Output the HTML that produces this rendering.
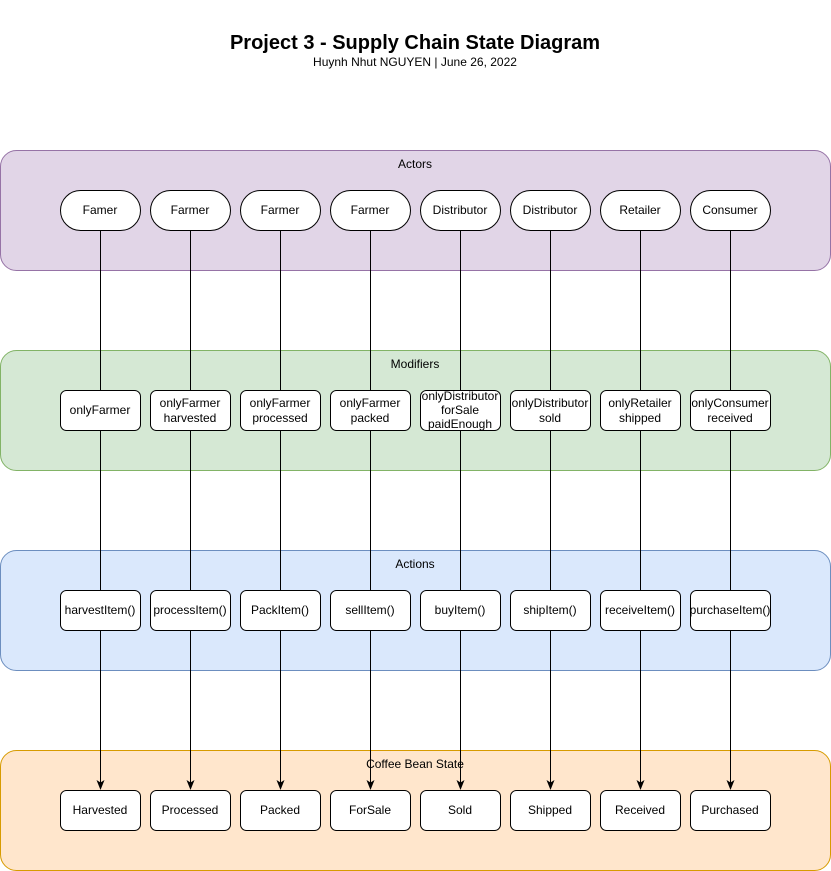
<!DOCTYPE html>
<html><head><meta charset="utf-8"><style>
html,body{margin:0;padding:0;background:#fff;width:831px;height:871px;overflow:hidden}
svg text{font-family:"Liberation Sans",Arial,sans-serif;fill:#000}
</style></head><body>
<svg width="831" height="871" viewBox="0 0 831 871" xmlns="http://www.w3.org/2000/svg">
<text x="415" y="49" font-size="20" font-weight="bold" text-anchor="middle">Project 3 - Supply Chain State Diagram</text>
<text x="415" y="66" font-size="12" text-anchor="middle">Huynh Nhut NGUYEN | June 26, 2022</text>
<rect x="0.5" y="150.5" width="830" height="120" rx="16" fill="#e1d5e7" stroke="#9673a6"/>
<rect x="0.5" y="350.5" width="830" height="120" rx="16" fill="#d5e8d4" stroke="#82b366"/>
<rect x="0.5" y="550.5" width="830" height="120" rx="16" fill="#dae8fc" stroke="#6c8ebf"/>
<rect x="0.5" y="750.5" width="830" height="120" rx="16" fill="#ffe6cc" stroke="#d79b00"/>
<g font-size="12" text-anchor="middle">
<text x="415" y="168">Actors</text>
<text x="415" y="368">Modifiers</text>
<text x="415" y="568">Actions</text>
<text x="415" y="768">Coffee Bean State</text>
</g>
<g stroke="#000" stroke-width="1">
<line x1="100.5" y1="230" x2="100.5" y2="784"/>
<line x1="190.5" y1="230" x2="190.5" y2="784"/>
<line x1="280.5" y1="230" x2="280.5" y2="784"/>
<line x1="370.5" y1="230" x2="370.5" y2="784"/>
<line x1="460.5" y1="230" x2="460.5" y2="784"/>
<line x1="550.5" y1="230" x2="550.5" y2="784"/>
<line x1="640.5" y1="230" x2="640.5" y2="784"/>
<line x1="730.5" y1="230" x2="730.5" y2="784"/>
</g>
<g fill="#000">
<path d="M96.5,780 L100.5,790 L104.5,780 L100.5,782.5 Z"/>
<path d="M186.5,780 L190.5,790 L194.5,780 L190.5,782.5 Z"/>
<path d="M276.5,780 L280.5,790 L284.5,780 L280.5,782.5 Z"/>
<path d="M366.5,780 L370.5,790 L374.5,780 L370.5,782.5 Z"/>
<path d="M456.5,780 L460.5,790 L464.5,780 L460.5,782.5 Z"/>
<path d="M546.5,780 L550.5,790 L554.5,780 L550.5,782.5 Z"/>
<path d="M636.5,780 L640.5,790 L644.5,780 L640.5,782.5 Z"/>
<path d="M726.5,780 L730.5,790 L734.5,780 L730.5,782.5 Z"/>
</g>
<g fill="#fff" stroke="#000">
<rect x="60.5" y="190.5" width="80" height="40" rx="20"/><rect x="150.5" y="190.5" width="80" height="40" rx="20"/><rect x="240.5" y="190.5" width="80" height="40" rx="20"/><rect x="330.5" y="190.5" width="80" height="40" rx="20"/><rect x="420.5" y="190.5" width="80" height="40" rx="20"/><rect x="510.5" y="190.5" width="80" height="40" rx="20"/><rect x="600.5" y="190.5" width="80" height="40" rx="20"/><rect x="690.5" y="190.5" width="80" height="40" rx="20"/>
<rect x="60.5" y="390.5" width="80" height="40" rx="6"/><rect x="150.5" y="390.5" width="80" height="40" rx="6"/><rect x="240.5" y="390.5" width="80" height="40" rx="6"/><rect x="330.5" y="390.5" width="80" height="40" rx="6"/><rect x="420.5" y="390.5" width="80" height="40" rx="6"/><rect x="510.5" y="390.5" width="80" height="40" rx="6"/><rect x="600.5" y="390.5" width="80" height="40" rx="6"/><rect x="690.5" y="390.5" width="80" height="40" rx="6"/>
<rect x="60.5" y="590.5" width="80" height="40" rx="6"/><rect x="150.5" y="590.5" width="80" height="40" rx="6"/><rect x="240.5" y="590.5" width="80" height="40" rx="6"/><rect x="330.5" y="590.5" width="80" height="40" rx="6"/><rect x="420.5" y="590.5" width="80" height="40" rx="6"/><rect x="510.5" y="590.5" width="80" height="40" rx="6"/><rect x="600.5" y="590.5" width="80" height="40" rx="6"/><rect x="690.5" y="590.5" width="80" height="40" rx="6"/>
<rect x="60.5" y="790.5" width="80" height="40" rx="6"/><rect x="150.5" y="790.5" width="80" height="40" rx="6"/><rect x="240.5" y="790.5" width="80" height="40" rx="6"/><rect x="330.5" y="790.5" width="80" height="40" rx="6"/><rect x="420.5" y="790.5" width="80" height="40" rx="6"/><rect x="510.5" y="790.5" width="80" height="40" rx="6"/><rect x="600.5" y="790.5" width="80" height="40" rx="6"/><rect x="690.5" y="790.5" width="80" height="40" rx="6"/>
</g>
<g font-size="12" text-anchor="middle">
<text x="100" y="214">Famer</text><text x="190" y="214">Farmer</text><text x="280" y="214">Farmer</text><text x="370" y="214">Farmer</text><text x="460" y="214">Distributor</text><text x="550" y="214">Distributor</text><text x="640" y="214">Retailer</text><text x="730" y="214">Consumer</text>
<text x="100" y="414">onlyFarmer</text>
<text x="190" y="407">onlyFarmer</text><text x="190" y="422">harvested</text>
<text x="280" y="407">onlyFarmer</text><text x="280" y="422">processed</text>
<text x="370" y="407">onlyFarmer</text><text x="370" y="422">packed</text>
<text x="460" y="400">onlyDistributor</text><text x="460" y="414">forSale</text><text x="460" y="428">paidEnough</text>
<text x="550" y="407">onlyDistributor</text><text x="550" y="422">sold</text>
<text x="640" y="407">onlyRetailer</text><text x="640" y="422">shipped</text>
<text x="730" y="407">onlyConsumer</text><text x="730" y="422">received</text>
<text x="100" y="614">harvestItem()</text><text x="190" y="614">processItem()</text><text x="280" y="614">PackItem()</text><text x="370" y="614">sellItem()</text><text x="460" y="614">buyItem()</text><text x="550" y="614">shipItem()</text><text x="640" y="614">receiveItem()</text><text x="730" y="614">purchaseItem()</text>
<text x="100" y="814">Harvested</text><text x="190" y="814">Processed</text><text x="280" y="814">Packed</text><text x="370" y="814">ForSale</text><text x="460" y="814">Sold</text><text x="550" y="814">Shipped</text><text x="640" y="814">Received</text><text x="730" y="814">Purchased</text>
</g>
</svg>
</body></html>
